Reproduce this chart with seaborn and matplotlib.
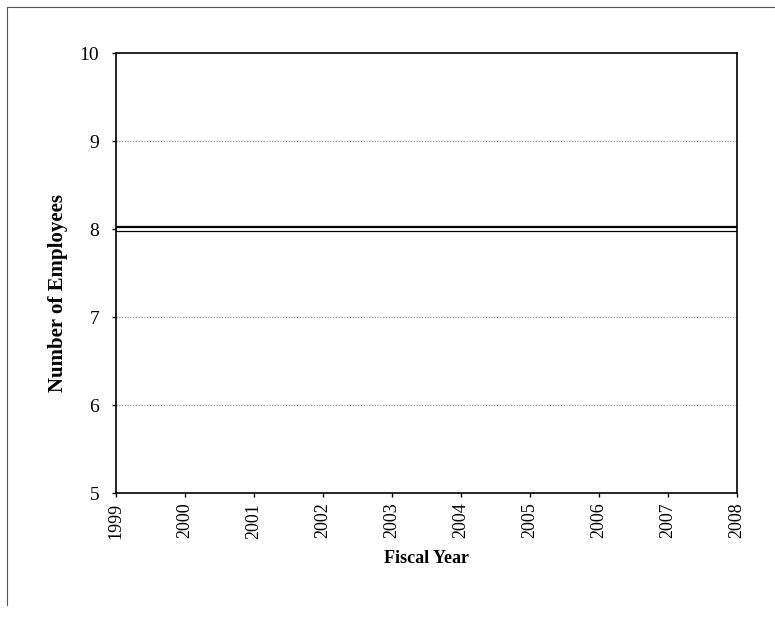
import matplotlib
matplotlib.use("Agg")
import matplotlib.pyplot as plt
import seaborn as sns
import pandas as pd
from matplotlib.lines import Line2D

years = [1999, 2000, 2001, 2002, 2003, 2004, 2005, 2006, 2007, 2008]
employees = [8, 8, 8, 8, 8, 8, 8, 8, 8, 8]
y_ticks = [5, 6, 7, 8, 9, 10]

df = pd.DataFrame({"Fiscal Year": years, "Number of Employees": employees})

sns.set_theme(style="white")
plt.rcParams['font.family'] = ['Liberation Serif', 'DejaVu Serif']
plt.rcParams['text.color'] = 'black'
plt.rcParams['axes.labelcolor'] = 'black'
plt.rcParams['xtick.color'] = 'black'
plt.rcParams['ytick.color'] = 'black'

fig = plt.figure(figsize=(7.75, 6.19), dpi=100)
ax = fig.add_axes([116/775, 1 - 493/619, (737-116)/775, (493-53)/619])

sns.lineplot(data=df, x="Fiscal Year", y="Number of Employees", ax=ax,
             color="black", linewidth=4.5, solid_capstyle="butt")
sns.lineplot(data=df, x="Fiscal Year", y="Number of Employees", ax=ax,
             color="white", linewidth=2.0, solid_capstyle="butt")

ax.set_xlim(1999, 2008)
ax.set_ylim(5, 10)
ax.set_xticks(years)
ax.set_xticklabels([str(y) for y in years], rotation=90, fontsize=13)
ax.set_yticks(y_ticks)
ax.set_yticklabels([str(v) for v in y_ticks], fontsize=14)
for v in y_ticks[1:-1]:
    ax.axhline(v, color="#888888", linestyle=(0, (1, 1.5)), linewidth=0.8, zorder=0)

for s in ax.spines.values():
    s.set_visible(True)
    s.set_color("black")
    s.set_linewidth(1.2)

ax.tick_params(axis="both", direction="out", length=3, width=1, color="black",
               bottom=True, left=True)
ax.tick_params(axis="y", pad=9)
ax.tick_params(axis="x", pad=4)
ax.set_xlabel("Fiscal Year", fontsize=13, fontweight="bold", labelpad=8)
ax.set_ylabel("Number of Employees", fontsize=15, fontweight="bold")
ax.yaxis.set_label_coords(-48/621, 0.455)

# outer frame (top and left edges)
fig.add_artist(Line2D([7/775, 1.0], [1 - 7/619, 1 - 7/619], transform=fig.transFigure,
                      color="#555555", linewidth=0.8))
fig.add_artist(Line2D([7/775, 7/775], [1 - 7/619, 1 - 605/619], transform=fig.transFigure,
                      color="#555555", linewidth=0.8))

fig.savefig("out.png", dpi=100, facecolor="white")
